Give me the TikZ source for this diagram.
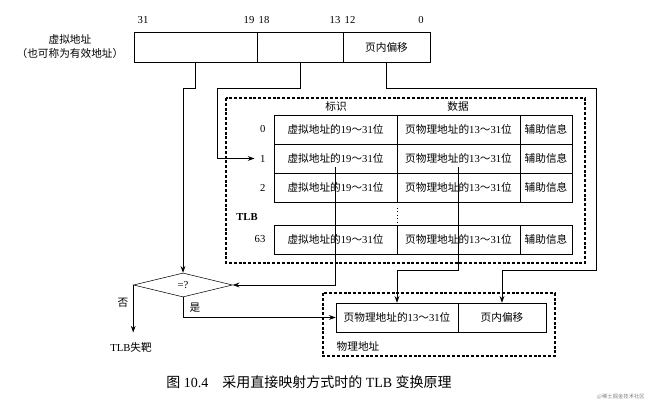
\documentclass[tikz,border=0pt]{standalone}
\usepackage{fontspec}
\setmainfont{Liberation Serif}
\newfontfamily\cjk{Noto Sans CJK SC}
\usetikzlibrary{shapes.geometric,arrows.meta}
\newcommand{\zh}[1]{{\cjk #1}}

\begin{document}
\begin{tikzpicture}[x=0.75pt, y=-0.75pt,
    field/.style={rectangle, draw, minimum height=22.5pt, inner sep=0pt, font=\fontsize{8}{9}\selectfont},
    cell/.style={rectangle, draw, minimum height=21.75pt, inner sep=0pt, font=\fontsize{8}{9}\selectfont},
    wide/.style={cell, minimum width=92.25pt},
    aux/.style={cell, minimum width=39pt},
    lbl/.style={font=\fontsize{8}{9}\selectfont, inner sep=1pt},
    frame/.style={draw, line width=1.4pt, dash pattern=on 2.2pt off 1.4pt},
    arrow/.style={-{Stealth[length=5pt, width=3.6pt]}, line width=0.6pt}
]
\useasboundingbox (0,0) rectangle (651,409);

% Virtual address
\node[lbl, align=center, font=\fontsize{8}{10.5}\selectfont] (vlabel) at (70,47) {\zh{虚拟地址}\\\zh{（也可称为有效地址）}};
\node[field, minimum width=92.25pt] (va1) at (195.5,47) {};
\node[field, minimum width=64.5pt] (va2) at (300,47) {};
\node[field, minimum width=65.25pt] (va3) at (386.5,47) {\zh{页内偏移}};
\node[lbl] (b31) at (143,20) {31};
\node[lbl] (b19) at (249,20) {19};
\node[lbl] (b18) at (264,20) {18};
\node[lbl] (b13) at (335,20) {13};
\node[lbl] (b12) at (350,20) {12};
\node[lbl] (b0) at (421,20) {0};

% TLB
\draw[frame] (226,98) rectangle (585,263);
\node[lbl] (tagh) at (336,106) {\zh{标识}};
\node[lbl] (datah) at (458,106) {\zh{数据}};
\node[lbl, font=\fontsize{8}{9}\selectfont\bfseries] (tlb) at (247,217) {TLB};

% Row 0
\node[lbl, anchor=east] (num0) at (267,129.5) {0};
\node[wide] (tag0) at (335.5,129.5) {\zh{虚拟地址的}19\zh{～}31\zh{位}};
\node[wide] (pfn0) at (458.5,129.5) {\zh{页物理地址的}13\zh{～}31\zh{位}};
\node[aux] (aux0) at (546,129.5) {\zh{辅助信息}};

% Row 1
\node[lbl, anchor=east] (num1) at (267,158.5) {1};
\node[wide] (tag1) at (335.5,158.5) {\zh{虚拟地址的}19\zh{～}31\zh{位}};
\node[wide] (pfn1) at (458.5,158.5) {\zh{页物理地址的}13\zh{～}31\zh{位}};
\node[aux] (aux1) at (546,158.5) {\zh{辅助信息}};

% Row 2
\node[lbl, anchor=east] (num2) at (267,187.5) {2};
\node[wide] (tag2) at (335.5,187.5) {\zh{虚拟地址的}19\zh{～}31\zh{位}};
\node[wide] (pfn2) at (458.5,187.5) {\zh{页物理地址的}13\zh{～}31\zh{位}};
\node[aux] (aux2) at (546,187.5) {\zh{辅助信息}};

\draw[dotted, line width=0.6pt] (397,208) -- (397,222);

% Row 63
\node[lbl, anchor=east] (num63) at (267,239.5) {63};
\node[wide] (tag63) at (335.5,239.5) {\zh{虚拟地址的}19\zh{～}31\zh{位}};
\node[wide] (pfn63) at (458.5,239.5) {\zh{页物理地址的}13\zh{～}31\zh{位}};
\node[aux] (aux63) at (546,239.5) {\zh{辅助信息}};

% Comparator
\node[draw, diamond, aspect=4, inner sep=0pt, minimum width=74.25pt, minimum height=18pt, font=\fontsize{8}{9}\selectfont] (cmp) at (183,285) {=?};
\node[lbl] (no) at (123,303) {\zh{否}};
\node[lbl] (yes) at (195,308) {\zh{是}};
\node[lbl] (miss) at (131,347) {TLB\zh{失靶}};

% Physical address
\draw[frame] (323,293) rectangle (555,356);
\node[cell, minimum width=91.5pt] (ppn) at (397,317.5) {\zh{页物理地址的}13\zh{～}31\zh{位}};
\node[cell, minimum width=66pt] (poff) at (502,317.5) {\zh{页内偏移}};
\node[lbl] (plabel) at (358,346) {\zh{物理地址}};

% Caption
\node[font=\fontsize{10.5}{12}\selectfont] (caption) at (309,382) {\zh{图} 10.4\quad\zh{采用直接映射方式时的} TLB \zh{变换原理}};
\node[font=\fontsize{4}{5}\selectfont, text=gray] (mark) at (621,397) {@\zh{稀土掘金技术社区}};

% Arrows
\coordinate (idx) at (217,88);
\coordinate (turnA) at (596,88);
\coordinate (turnB) at (596,270);
\coordinate (turnC) at (458.5,270);
\draw[arrow] (va1.south) -- ++(0,26) -| (cmp.north);
\draw[arrow, shorten >=3pt] (va2.south) |- (idx) |- (num1.west);
\draw[arrow] (va3.south) |- (turnA) -- (turnB) -| (poff.north);
\draw[arrow] ([yshift=-6.4pt]tag1.center) |- (cmp.east);
\draw[arrow] ([yshift=-6.4pt]pfn1.center) -- (turnC) -| (ppn.north);
\draw[arrow] (cmp.south) |- (ppn.west);
\draw[arrow, shorten >=6pt] (cmp.west) -- (cmp.west |- miss.north);

\end{tikzpicture}
\end{document}
